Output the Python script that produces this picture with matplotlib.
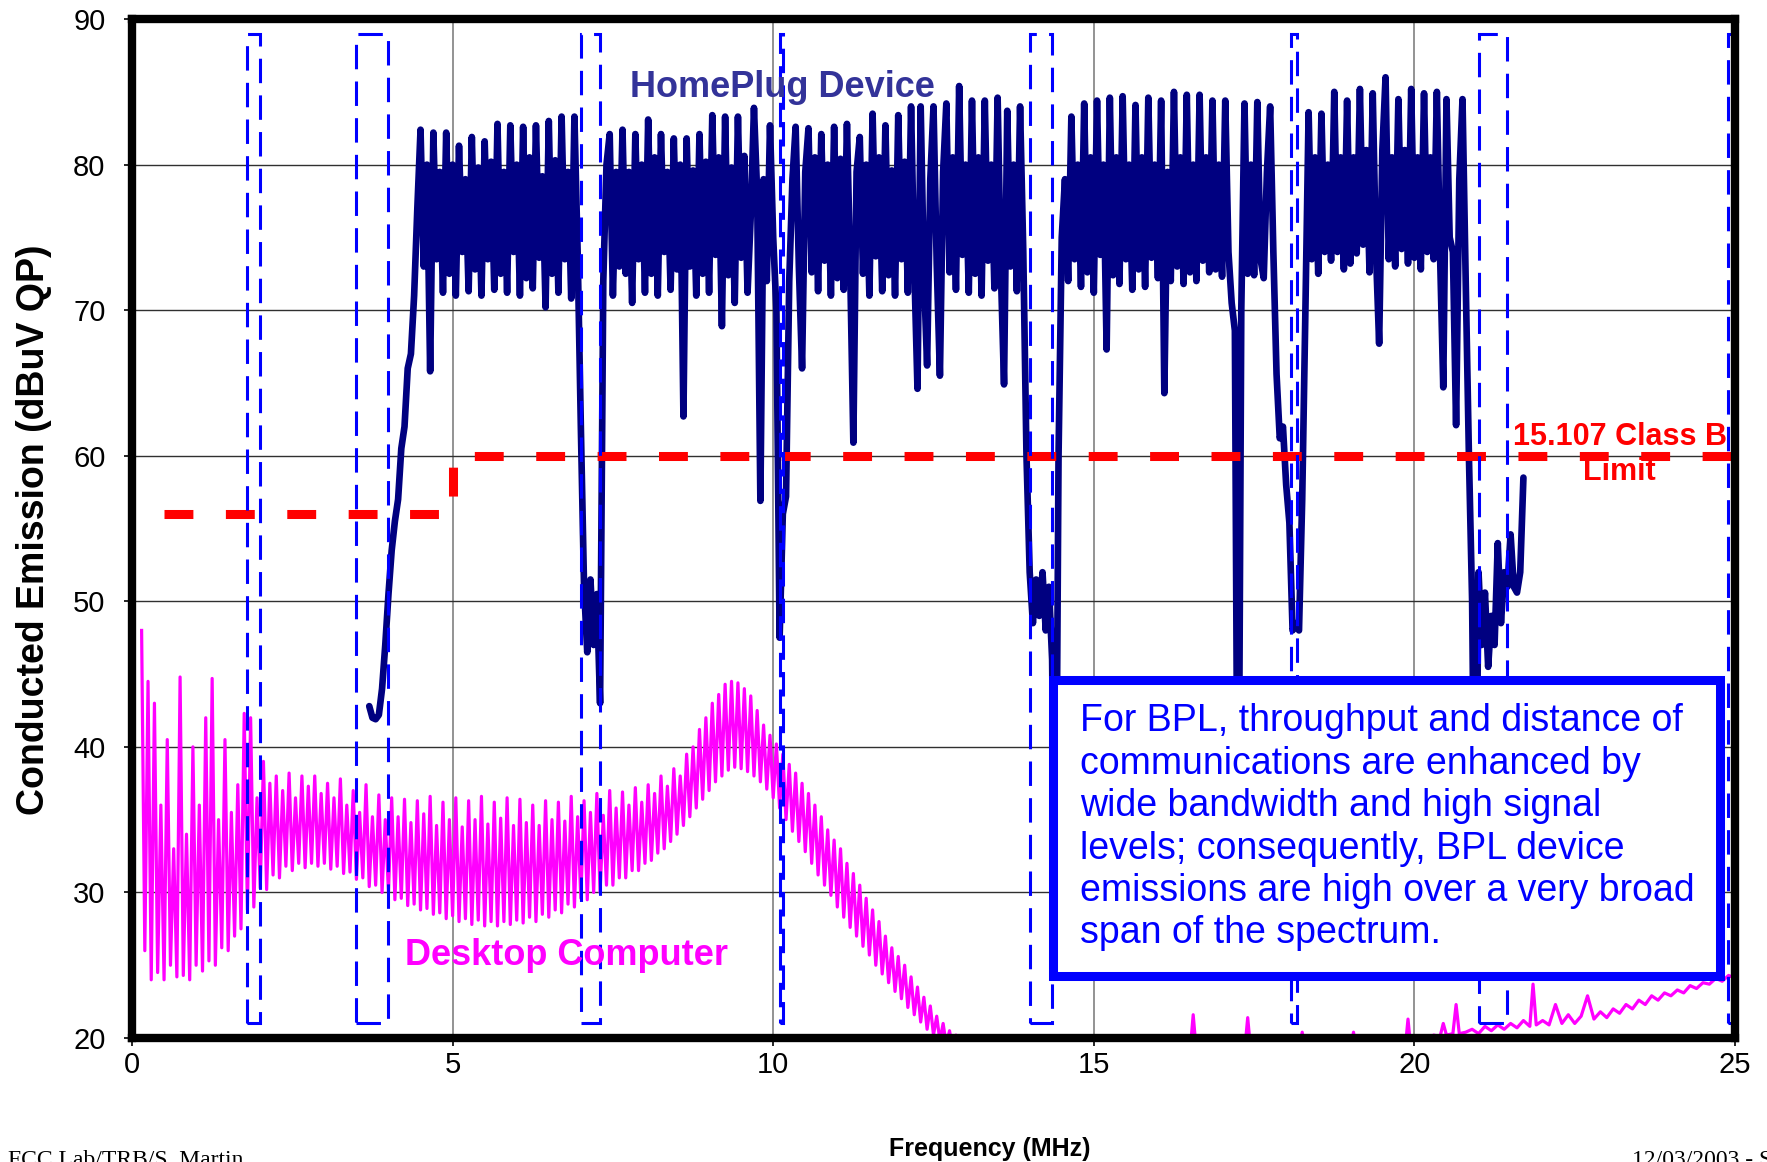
import numpy as np
import matplotlib.pyplot as plt
from matplotlib.patches import Rectangle

plt.rcParams['font.family'] = ['Liberation Sans', 'DejaVu Sans']

# HomePlug device, one reading every 0.05 MHz starting at 3.70 MHz (dBuV QP)
hp_start = 3.70
hp_step = 0.05
hp_level = [
    42.8, 42.0, 41.9, 42.2, 44.0, 47.0, 50.5, 53.5, 55.5, 57.0, 60.5, 62.0, 66.0, 67.0, 71.0, 77.0, 82.4, 73.0, 80.0, 65.8,
    82.2, 73.5, 79.5, 71.2, 82.2, 72.5, 80.0, 71.0, 81.3, 74.0, 79.0, 71.3, 81.9, 72.8, 79.8, 71.0, 81.6, 73.5, 80.2, 71.4,
    82.8, 72.5, 79.5, 71.2, 82.7, 74.0, 80.0, 71.0, 82.6, 72.2, 80.5, 71.5, 82.7, 73.6, 79.2, 70.2, 83.0, 72.5, 80.3, 71.2,
    83.3, 73.5, 79.5, 70.8, 83.3, 74.0, 62.0, 51.0, 46.5, 51.5, 47.0, 50.5, 43.0, 72.0, 80.0, 82.1, 71.0, 79.5, 73.0, 82.4,
    72.5, 79.5, 70.5, 82.1, 73.5, 80.0, 71.2, 83.1, 72.5, 80.5, 71.0, 82.1, 74.0, 79.5, 71.4, 81.8, 72.8, 80.0, 62.7, 81.8,
    73.0, 79.6, 71.0, 82.1, 72.5, 80.2, 71.2, 83.4, 73.8, 80.5, 68.9, 83.3, 72.4, 79.8, 70.5, 83.3, 73.6, 80.6, 71.2, 76.5,
    83.9, 78.0, 56.9, 79.0, 72.0, 82.7, 75.0, 70.0, 47.5, 56.0, 57.2, 72.0, 79.0, 82.6, 73.0, 66.0, 79.5, 82.5, 72.6, 80.5,
    71.3, 82.1, 73.4, 80.0, 71.0, 82.6, 72.2, 80.4, 71.4, 82.8, 73.0, 60.9, 79.5, 81.9, 72.5, 80.0, 71.0, 83.5, 73.7, 80.5,
    71.3, 82.7, 72.4, 79.6, 71.0, 83.4, 73.5, 80.2, 71.2, 84.0, 73.0, 64.6, 84.0, 72.5, 66.2, 79.0, 84.0, 73.2, 65.5, 79.5,
    84.2, 72.6, 80.5, 71.4, 85.4, 73.8, 80.0, 71.2, 84.4, 72.5, 80.5, 71.0, 84.4, 73.4, 80.0, 71.5, 84.6, 72.8, 64.9, 83.7,
    73.0, 80.0, 71.3, 84.0, 74.0, 60.0, 52.0, 48.5, 51.5, 49.0, 52.0, 48.0, 51.0, 46.0, 25.0, 60.0, 75.0, 79.0, 72.0, 83.3,
    73.5, 80.0, 71.6, 84.2, 72.6, 80.5, 71.2, 84.4, 73.8, 80.0, 67.3, 84.6, 72.4, 80.5, 71.8, 84.7, 73.5, 80.0, 71.4, 84.1,
    72.8, 80.5, 71.6, 84.6, 73.6, 80.0, 72.2, 84.4, 64.3, 79.5, 72.0, 85.0, 73.0, 80.5, 71.8, 84.8, 72.6, 80.0, 72.0, 84.8,
    73.4, 80.5, 72.6, 84.4, 72.8, 80.0, 72.3, 84.4, 74.0, 70.5, 68.6, 26.0, 70.0, 84.2, 72.5, 80.0, 72.4, 84.3, 73.5, 72.2,
    79.5, 84.0, 74.0, 65.6, 61.2, 62.0, 58.0, 55.4, 48.0, 48.5, 48.0, 57.0, 70.0, 83.6, 73.5, 80.5, 72.5, 83.5, 74.0, 80.0,
    73.4, 85.0, 74.0, 80.5, 72.8, 84.4, 73.2, 80.5, 73.9, 85.2, 74.5, 81.0, 72.6, 84.9, 74.0, 67.7, 81.0, 86.0, 73.5, 80.5,
    73.0, 84.5, 74.2, 81.0, 73.2, 85.2, 73.6, 80.5, 72.8, 84.9, 74.0, 80.5, 73.5, 85.0, 73.8, 64.7, 84.5, 75.0, 74.0, 62.1,
    79.0, 84.5, 72.0, 60.0, 50.0, 27.0, 52.0, 47.0, 50.6, 45.5, 49.0, 47.0, 54.0, 48.5, 52.0, 51.0, 54.6, 51.0, 50.6, 52.0,
    58.5,
]

# Desktop computer: harmonic spike tops every 0.1 MHz from 0.15 MHz,
# floor readings half way between the spikes
desk_start = 0.15
desk_step = 0.1
desk_peak = [
    48.0, 44.5, 43.0, 36.0, 40.5, 33.0, 44.8, 34.0, 40.0, 36.0,
    42.0, 44.7, 35.0, 40.5, 35.5, 37.4, 42.3, 42.0, 36.5, 39.0,
    37.5, 38.0, 37.0, 38.2, 36.5, 38.0, 37.3, 38.0, 36.8, 37.5,
    36.5, 37.8, 36.0, 37.0, 35.5, 37.4, 35.2, 36.7, 35.0, 36.5,
    35.2, 36.4, 34.8, 36.3, 35.4, 36.6, 34.6, 36.2, 35.0, 36.5,
    34.5, 36.3, 35.0, 36.6, 34.7, 36.2, 35.1, 36.5, 34.6, 36.4,
    34.8, 36.0, 34.6, 36.3, 35.0, 36.2, 34.9, 36.6, 35.2, 36.3,
    35.5, 36.8, 35.3, 37.0, 35.8, 36.9, 36.0, 37.2, 36.2, 37.4,
    36.8, 38.0, 37.3, 38.5, 38.0, 39.5, 40.0, 41.2, 42.0, 43.0,
    43.6, 44.3, 44.5, 44.4, 44.0, 43.5, 42.5, 41.5, 40.8, 40.2,
    39.5, 38.8, 38.2, 37.5, 36.8, 36.0, 35.2, 34.3, 33.6, 33.0,
    32.0, 31.3, 30.5, 29.6, 28.8, 28.0, 27.0, 26.2, 25.6, 25.0,
    24.2, 23.5, 22.8, 22.2, 21.5, 21.0, 20.5, 20.2, 19.8,
]
desk_floor = [
    26.0, 24.0, 24.5, 24.0, 25.0, 24.2, 24.3, 24.0, 25.0, 24.6,
    25.3, 25.0, 26.2, 26.0, 27.0, 27.5, 28.8, 29.0, 30.3, 30.2,
    31.2, 31.0, 31.8, 31.5, 32.0, 31.7, 32.0, 31.8, 32.0, 31.6,
    31.8, 31.3, 31.4, 30.9, 31.0, 30.4, 30.5, 30.0, 30.0, 29.5,
    29.6, 29.1, 29.2, 28.8, 28.9, 28.5, 28.6, 28.2, 28.4, 28.0,
    28.2, 27.8, 28.1, 27.7, 28.0, 27.7, 28.0, 27.8, 28.1, 27.9,
    28.3, 28.0, 28.5, 28.3, 28.8, 28.6, 29.2, 29.0, 29.6, 29.5,
    30.0, 30.0, 30.5, 30.5, 31.0, 31.0, 31.5, 31.5, 32.0, 32.2,
    32.7, 33.0, 33.5, 34.0, 34.6, 35.2, 35.8, 36.4, 37.0, 37.6,
    38.0, 38.4, 38.6, 38.5, 38.3, 38.0, 37.6, 37.1, 36.5, 35.8,
    35.0, 34.2, 33.5, 32.8, 32.0, 31.2, 30.5, 29.8, 29.0, 28.3,
    27.6, 27.0, 26.3, 25.7, 25.0, 24.4, 23.8, 23.2, 22.7, 22.1,
    21.6, 21.1, 20.6, 20.2, 19.8, 19.5, 19.2, 19.0, 18.8,
]

# Desktop computer above 13 MHz (mostly under the 20 dBuV floor)
desk_tail_f = [13.0, 16.5, 16.55, 16.6, 17.35, 17.4, 17.45, 18.2, 18.25, 18.3,
               19.0, 19.05, 19.1, 19.85, 19.9, 19.95, 20.2, 20.3, 20.4, 20.45,
               20.5, 20.6, 20.65, 20.7, 20.8, 20.9, 21.0, 21.1, 21.2, 21.3,
               21.4, 21.5, 21.6, 21.7, 21.8, 21.85, 21.9, 22.0, 22.1, 22.2,
               22.3, 22.4, 22.5, 22.6, 22.7, 22.8, 22.9, 23.0, 23.1, 23.2,
               23.3, 23.4, 23.5, 23.6, 23.7, 23.8, 23.9, 24.0, 24.1, 24.2,
               24.3, 24.4, 24.5, 24.6, 24.7, 24.8, 24.9, 24.95]
desk_tail_v = [19.5, 19.0, 21.6, 19.0, 19.0, 21.4, 19.0, 19.0, 20.4, 19.0,
               19.0, 20.4, 19.0, 19.0, 21.3, 19.0, 19.8, 20.2, 20.1, 21.0,
               20.2, 20.3, 22.3, 20.3, 20.4, 20.6, 20.3, 20.8, 20.5, 20.9,
               20.6, 21.0, 20.7, 21.2, 20.8, 23.7, 20.9, 21.2, 20.9, 22.3,
               21.0, 21.6, 21.0, 21.5, 22.9, 21.3, 21.8, 21.4, 22.0, 21.7,
               22.3, 22.0, 22.6, 22.3, 22.9, 22.6, 23.1, 22.9, 23.3, 23.1,
               23.6, 23.4, 23.8, 23.7, 24.1, 23.9, 24.3, 24.2]

# FCC 15.107 Class B conducted limit
limit_f = [0.5, 5.0, 5.0, 25.0]
limit_v = [56, 56, 60, 60]

# amateur radio bands (MHz)
band_lo = [1.8, 3.5, 7.0, 10.1, 14.0, 18.068, 21.0, 24.89]
band_hi = [2.0, 4.0, 7.3, 10.15, 14.35, 18.168, 21.45, 24.99]
band_bottom, band_top = 21, 89

note = ("For BPL, throughput and distance of\n"
        "communications are enhanced by\n"
        "wide bandwidth and high signal\n"
        "levels; consequently, BPL device\n"
        "emissions are high over a very broad\n"
        "span of the spectrum.")

# build the traces
hp_f = hp_start + hp_step * np.arange(len(hp_level))

n = len(desk_peak)
fp = desk_start + desk_step * np.arange(n)
desk_f = np.empty(2 * n)
desk_v = np.empty(2 * n)
desk_f[0::2] = fp
desk_f[1::2] = fp + desk_step / 2
desk_v[0::2] = desk_peak
desk_v[1::2] = desk_floor
desk_f = np.concatenate([desk_f, desk_tail_f])
desk_v = np.concatenate([desk_v, desk_tail_v])

fig = plt.figure(figsize=(17.67, 11.62), dpi=100)
ax = fig.add_axes([0.0747, 0.1067, 0.9072, 0.8769])

ax.plot(desk_f, desk_v, color='#FF00FF', lw=2.3, zorder=2)
ax.plot(hp_f, hp_level, color='#000080', lw=4.8, zorder=3,
        solid_joinstyle='round', solid_capstyle='round')
ax.plot(limit_f, limit_v, color='#FF0000', lw=6.5, dashes=(3.2, 3.6), zorder=4)

for lo, hi in zip(band_lo, band_hi):
    ax.add_patch(Rectangle((lo, band_bottom), hi - lo, band_top - band_bottom,
                           fill=False, ec='#0000FF', lw=2.2,
                           ls=(0, (8, 4)), zorder=5))

# text box
ax.add_patch(Rectangle((14.37, 24.26), 10.4, 20.36, fc='white', ec='#0000FF',
                       lw=6.5, zorder=6))
ax.text(14.78, 43.0, note, color='#0000FF', fontsize=27, va='top', ha='left',
        linespacing=1.23, zorder=7)

ax.text(10.15, 85.3, 'HomePlug Device', color='#333399', fontsize=26,
        fontweight='bold', ha='center', va='center', zorder=7)
ax.text(6.78, 25.7, 'Desktop Computer', color='#FF00FF', fontsize=26,
        fontweight='bold', ha='center', va='center', zorder=7)
ax.text(23.2, 60.1, '15.107 Class B\nLimit', color='#FF0000', fontsize=22,
        fontweight='bold', ha='center', va='center', linespacing=1.2, zorder=8)

ax.set_xlim(0, 25)
ax.set_ylim(20, 90)
ax.set_xticks(range(0, 26, 5))
ax.set_yticks(range(20, 91, 10))
ax.tick_params(axis='both', labelsize=21, length=6, width=1.2, direction='out')
ax.tick_params(axis='x', pad=3)
ax.tick_params(axis='y', pad=13)

ax.set_axisbelow(True)
ax.xaxis.grid(True, color='#808080', lw=1.2)
ax.yaxis.grid(True, color='#303030', lw=1.0)
for sp in ax.spines.values():
    sp.set_linewidth(6)
    sp.set_zorder(10)

fig.text(0.0192, 0.544, 'Conducted Emission (dBuV QP)', rotation=90,
         fontsize=27, fontweight='bold', ha='center', va='center')
fig.text(0.56, 0.005, 'Frequency (MHz)', fontsize=18, fontweight='bold',
         ha='center', va='baseline')
fig.text(0.0045, -0.0034, 'FCC Lab/TRB/S. Martin', fontsize=17,
         family='Liberation Serif', va='baseline')
fig.text(0.9236, -0.0034, '12/03/2003 - Slide', fontsize=17,
         family='Liberation Serif', va='baseline')

fig.savefig('out.png', dpi=100)
